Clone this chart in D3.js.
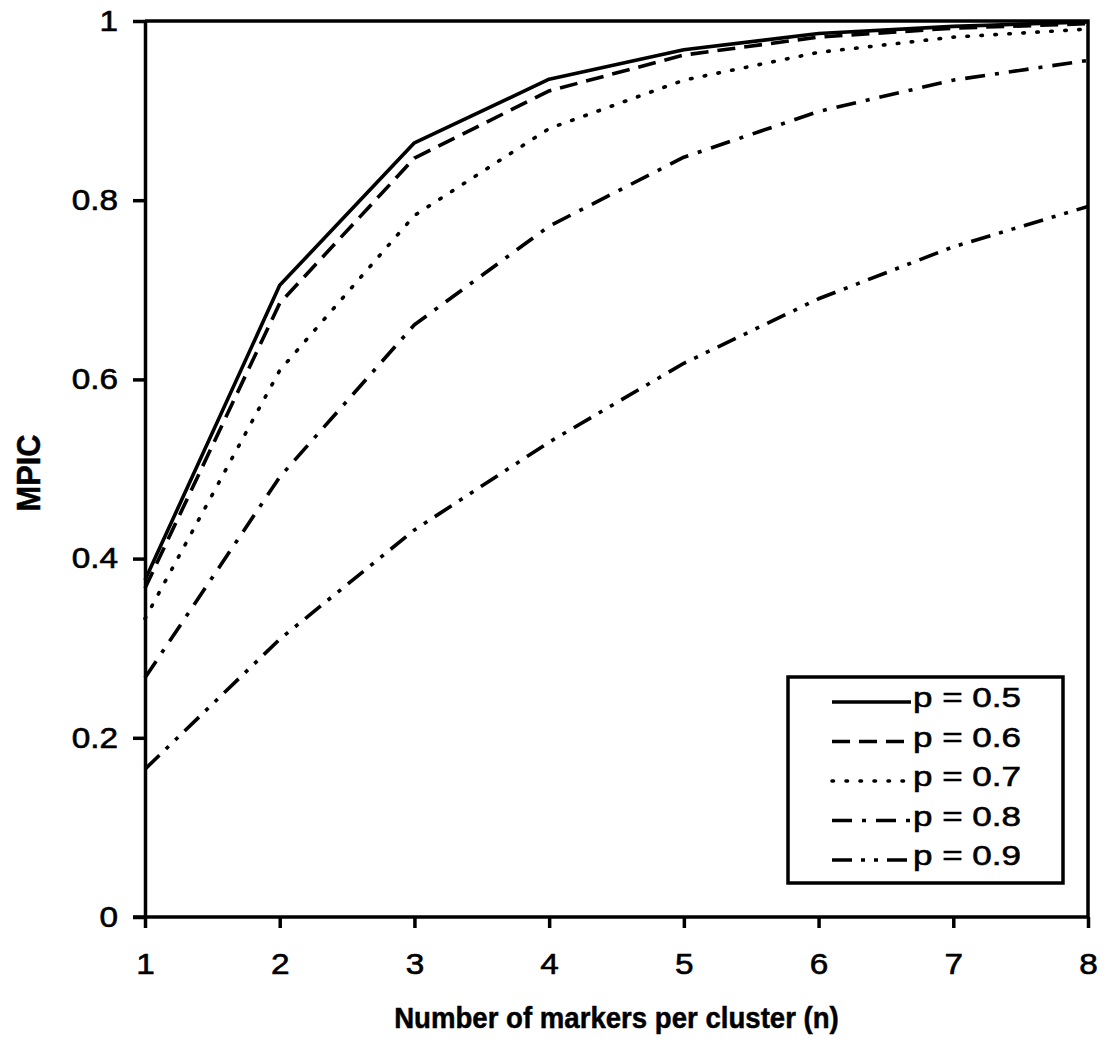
<!DOCTYPE html>
<html>
<head>
<meta charset="utf-8">
<script src="https://cdn.jsdelivr.net/npm/d3@7/dist/d3.min.js"></script>
<style>
  html, body { margin: 0; padding: 0; background: #fff; }
  svg { display: block; }
  text { font-family: "Liberation Sans", Arial, sans-serif; fill: #000; }
</style>
</head>
<body>
<svg id="chart" width="1106" height="1058"></svg>
<script>
// Number of markers per cluster
const markers = [1, 2, 3, 4, 5, 6, 7, 8];

// MPIC for each marker probability p
const p05 = [0.376, 0.705, 0.864, 0.935, 0.968, 0.986, 0.994, 0.999];
const p06 = [0.367, 0.685, 0.847, 0.922, 0.962, 0.982, 0.992, 0.997];
const p07 = [0.333, 0.610, 0.783, 0.880, 0.934, 0.965, 0.982, 0.991];
const p08 = [0.267, 0.491, 0.661, 0.771, 0.848, 0.899, 0.934, 0.956];
const p09 = [0.165, 0.310, 0.432, 0.530, 0.618, 0.690, 0.748, 0.793];

const seriesLabels = ["p = 0.5", "p = 0.6", "p = 0.7", "p = 0.8", "p = 0.9"];
const yTicks = [0, 0.2, 0.4, 0.6, 0.8, 1];
const yTickLabels = ["0", "0.2", "0.4", "0.6", "0.8", "1"];

// Stroke patterns: solid, dashed, dotted, dash-dot, dash-dot-dot
const dashes = [null, "18,9", "1.5,12.5", "20,10,4,10", "20,9,4,9,4,9"];
const caps = ["butt", "butt", "round", "butt", "butt"];
const allSeries = [p05, p06, p07, p08, p09];

const svg = d3.select("#chart");
const plotLeft = 145, plotRight = 1088, plotTop = 21, plotBottom = 917;

const x = d3.scaleLinear().domain([1, 8]).range([plotLeft, plotRight]);
const y = d3.scaleLinear().domain([0, 1]).range([plotBottom, plotTop]);

// Widen a text element horizontally about its anchor point
function widen(sel, sx) {
  sel.each(function () {
    const t = d3.select(this);
    const tx = +t.attr("x") || 0, ty = +t.attr("y") || 0;
    t.attr("x", 0).attr("y", 0)
      .attr("transform", `translate(${tx},${ty}) scale(${sx},1)`);
  });
}

// Data lines
const line = d3.line().x((d, i) => x(markers[i])).y(d => y(d));
const g = svg.append("g");
allSeries.forEach((s, k) => {
  g.append("path")
    .datum(s)
    .attr("d", line)
    .attr("fill", "none")
    .attr("stroke", "#000")
    .attr("stroke-width", 3.6)
    .attr("stroke-linecap", caps[k])
    .attr("stroke-linejoin", "round")
    .attr("stroke-dasharray", dashes[k]);
});

// Plot frame (top and right edges)
svg.append("path")
  .attr("d", `M${plotLeft},${plotTop}H${plotRight}V${plotBottom}`)
  .attr("fill", "none").attr("stroke", "#000").attr("stroke-width", 3.5);

// Axes
const xAxis = d3.axisBottom(x).tickValues(markers).tickFormat(d3.format("d"))
  .tickSizeInner(11).tickSizeOuter(0).tickPadding(25);
const yAxis = d3.axisLeft(y).tickValues(yTicks).tickFormat((d, i) => yTickLabels[i])
  .tickSizeInner(12).tickSizeOuter(0).tickPadding(15);

const gx = svg.append("g").attr("transform", `translate(0,${plotBottom})`).call(xAxis);
const gy = svg.append("g").attr("transform", `translate(${plotLeft},0)`).call(yAxis);
[gx, gy].forEach(a => {
  a.attr("font-size", null).attr("font-family", null);
  a.selectAll("path.domain").attr("stroke", "#000").attr("stroke-width", 3.5);
  a.selectAll(".tick line").attr("stroke", "#000").attr("stroke-width", 3.5);
  a.selectAll(".tick text")
    .style("font-family", "'Liberation Sans', Arial, sans-serif")
    .style("font-size", "29px").attr("fill", "#000")
    .attr("stroke", "#000").attr("stroke-width", 0.6);
  widen(a.selectAll(".tick text"), 1.15);
});
gx.select("path.domain").attr("d", `M${plotLeft - 12},0H${plotRight}`);

// Axis titles
const xTitle = svg.append("text")
  .attr("x", (plotLeft + plotRight) / 2).attr("y", 1028)
  .attr("text-anchor", "middle")
  .style("font-size", "30px").attr("font-weight", "bold")
  .attr("stroke", "#000").attr("stroke-width", 0.5)
  .text("Number of markers per cluster (n)");
widen(xTitle, 0.92);
svg.append("text")
  .attr("transform", `translate(40,${(plotTop + plotBottom) / 2 + 4}) rotate(-90) scale(1.1,1.2)`)
  .attr("text-anchor", "middle")
  .style("font-size", "28px").attr("font-weight", "bold")
  .attr("stroke", "#000").attr("stroke-width", 0.4)
  .text("MPIC");

// Legend
const lg = svg.append("g");
lg.append("rect")
  .attr("x", 788).attr("y", 677).attr("width", 275).attr("height", 206)
  .attr("fill", "#fff").attr("stroke", "#000").attr("stroke-width", 3.5);
seriesLabels.forEach((lab, k) => {
  const base = 707 + k * 39.5;
  lg.append("line")
    .attr("x1", 832).attr("x2", 911).attr("y1", base - 5).attr("y2", base - 5)
    .attr("stroke", "#000").attr("stroke-width", 3.6)
    .attr("stroke-linecap", caps[k])
    .attr("stroke-dasharray", dashes[k]);
  const t = lg.append("text")
    .attr("x", 913).attr("y", base)
    .style("font-size", "28px")
    .attr("stroke", "#000").attr("stroke-width", 0.6)
    .text(lab);
  widen(t, 1.25);
});
</script>
</body>
</html>
